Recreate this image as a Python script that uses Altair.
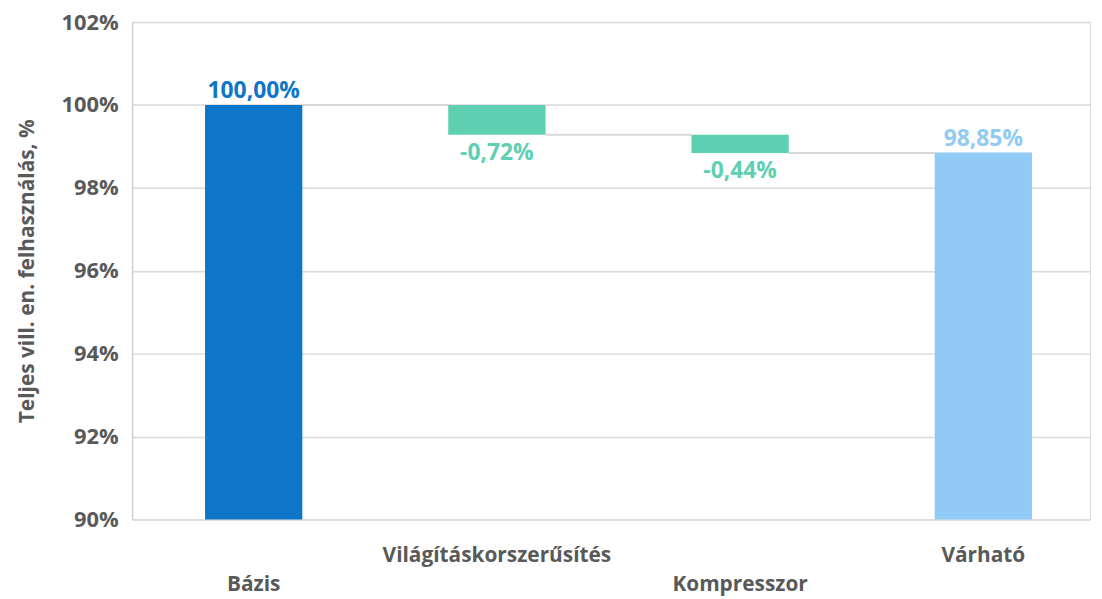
import altair as alt
import pandas as pd

categories = ["Bázis", "Világításkorszerűsítés", "Kompresszor", "Várható"]
starts = [90.0, 100.0, 99.28, 90.0]
ends = [100.0, 99.28, 98.84, 98.85]
labels = ["100,00%", "-0,72%", "-0,44%", "98,85%"]
label_values = [100.0, 99.28, 98.84, 98.85]
label_pos = ["above", "below", "below", "above"]
colors = ["#0E76C8", "#5ECFB1", "#5ECFB1", "#90CAF5"]
label_rows = ["low", "high", "low", "high"]

conn_from = [0, 1, 2]
conn_level = [100.0, 99.28, 98.84]

W, H = 965, 501
STEP = 245.0
FONT = "Open Sans"
GRAY = "#595959"

df = pd.DataFrame({
    "cat": categories,
    "idx": list(range(len(categories))),
    "start": starts,
    "end": ends,
    "label": labels,
    "lv": label_values,
    "pos": label_pos,
    "color": colors,
    "row": label_rows,
})
df["x0"] = df["idx"] - 0.2
df["x1"] = df["idx"] + 0.2

cdf = pd.DataFrame({"from": conn_from, "level": conn_level})
cdf["x0"] = cdf["from"] + 0.2
cdf["x1"] = cdf["from"] + 0.8

xscale = alt.Scale(domain=[-0.5, -0.5 + W / STEP], nice=False, zero=False)
yscale = alt.Scale(domain=[90, 102], nice=False, zero=False)

base_y = alt.Y("start:Q", scale=yscale,
               axis=alt.Axis(values=[90, 92, 94, 96, 98, 100, 102],
                             labelExpr="datum.value + '%'",
                             title="Teljes vill. en. felhasználás, %",
                             grid=True, gridColor="#d9d9d9", gridWidth=1.5,
                             domain=True, domainColor="#d0d0d0", domainWidth=1.5,
                             ticks=False, labelPadding=14,
                             labelFont=FONT, labelFontSize=22, labelFontWeight="bold",
                             labelColor=GRAY, titleFont=FONT, titleFontSize=21,
                             titleFontWeight="bold", titleColor=GRAY, titlePadding=24))

bars = alt.Chart(df).mark_bar().encode(
    x=alt.X("x0:Q", scale=xscale, axis=None),
    x2="x1:Q",
    y=base_y,
    y2="end:Q",
    color=alt.Color("color:N", scale=None),
)

connectors = alt.Chart(cdf).mark_rule(color="#d9d9d9", strokeWidth=2).encode(
    x=alt.X("x0:Q", scale=xscale, axis=None),
    x2="x1:Q",
    y=alt.Y("level:Q", scale=yscale),
)

above = alt.Chart(df).transform_filter("datum.pos == 'above'").mark_text(
    font=FONT, fontSize=23, fontWeight="bold", baseline="bottom", dy=-2
).encode(
    x=alt.X("idx:Q", scale=xscale),
    y=alt.Y("lv:Q", scale=yscale),
    text="label:N",
    color=alt.Color("color:N", scale=None),
)

below = alt.Chart(df).transform_filter("datum.pos == 'below'").mark_text(
    font=FONT, fontSize=23, fontWeight="bold", baseline="top", dy=7
).encode(
    x=alt.X("idx:Q", scale=xscale),
    y=alt.Y("lv:Q", scale=yscale),
    text="label:N",
    color=alt.Color("color:N", scale=None),
)

cat_high = alt.Chart(df).transform_filter("datum.row == 'high'").mark_text(
    font=FONT, fontSize=21, fontWeight="bold", color=GRAY, baseline="middle"
).encode(
    x=alt.X("idx:Q", scale=xscale),
    y=alt.value(H + 37),
    text="cat:N",
)

cat_low = alt.Chart(df).transform_filter("datum.row == 'low'").mark_text(
    font=FONT, fontSize=21, fontWeight="bold", color=GRAY, baseline="middle"
).encode(
    x=alt.X("idx:Q", scale=xscale),
    y=alt.value(H + 66),
    text="cat:N",
)

chart = alt.layer(connectors, bars, above, below, cat_high, cat_low).properties(
    width=W, height=H,
    autosize=alt.AutoSizeParams(type="none"),
    padding={"left": 125, "top": 12, "right": 4, "bottom": 77},
).configure_view(stroke="#d9d9d9", strokeWidth=1.5).configure(background="white")

chart.save("out.html", embed_options={"renderer": "svg", "actions": False})
